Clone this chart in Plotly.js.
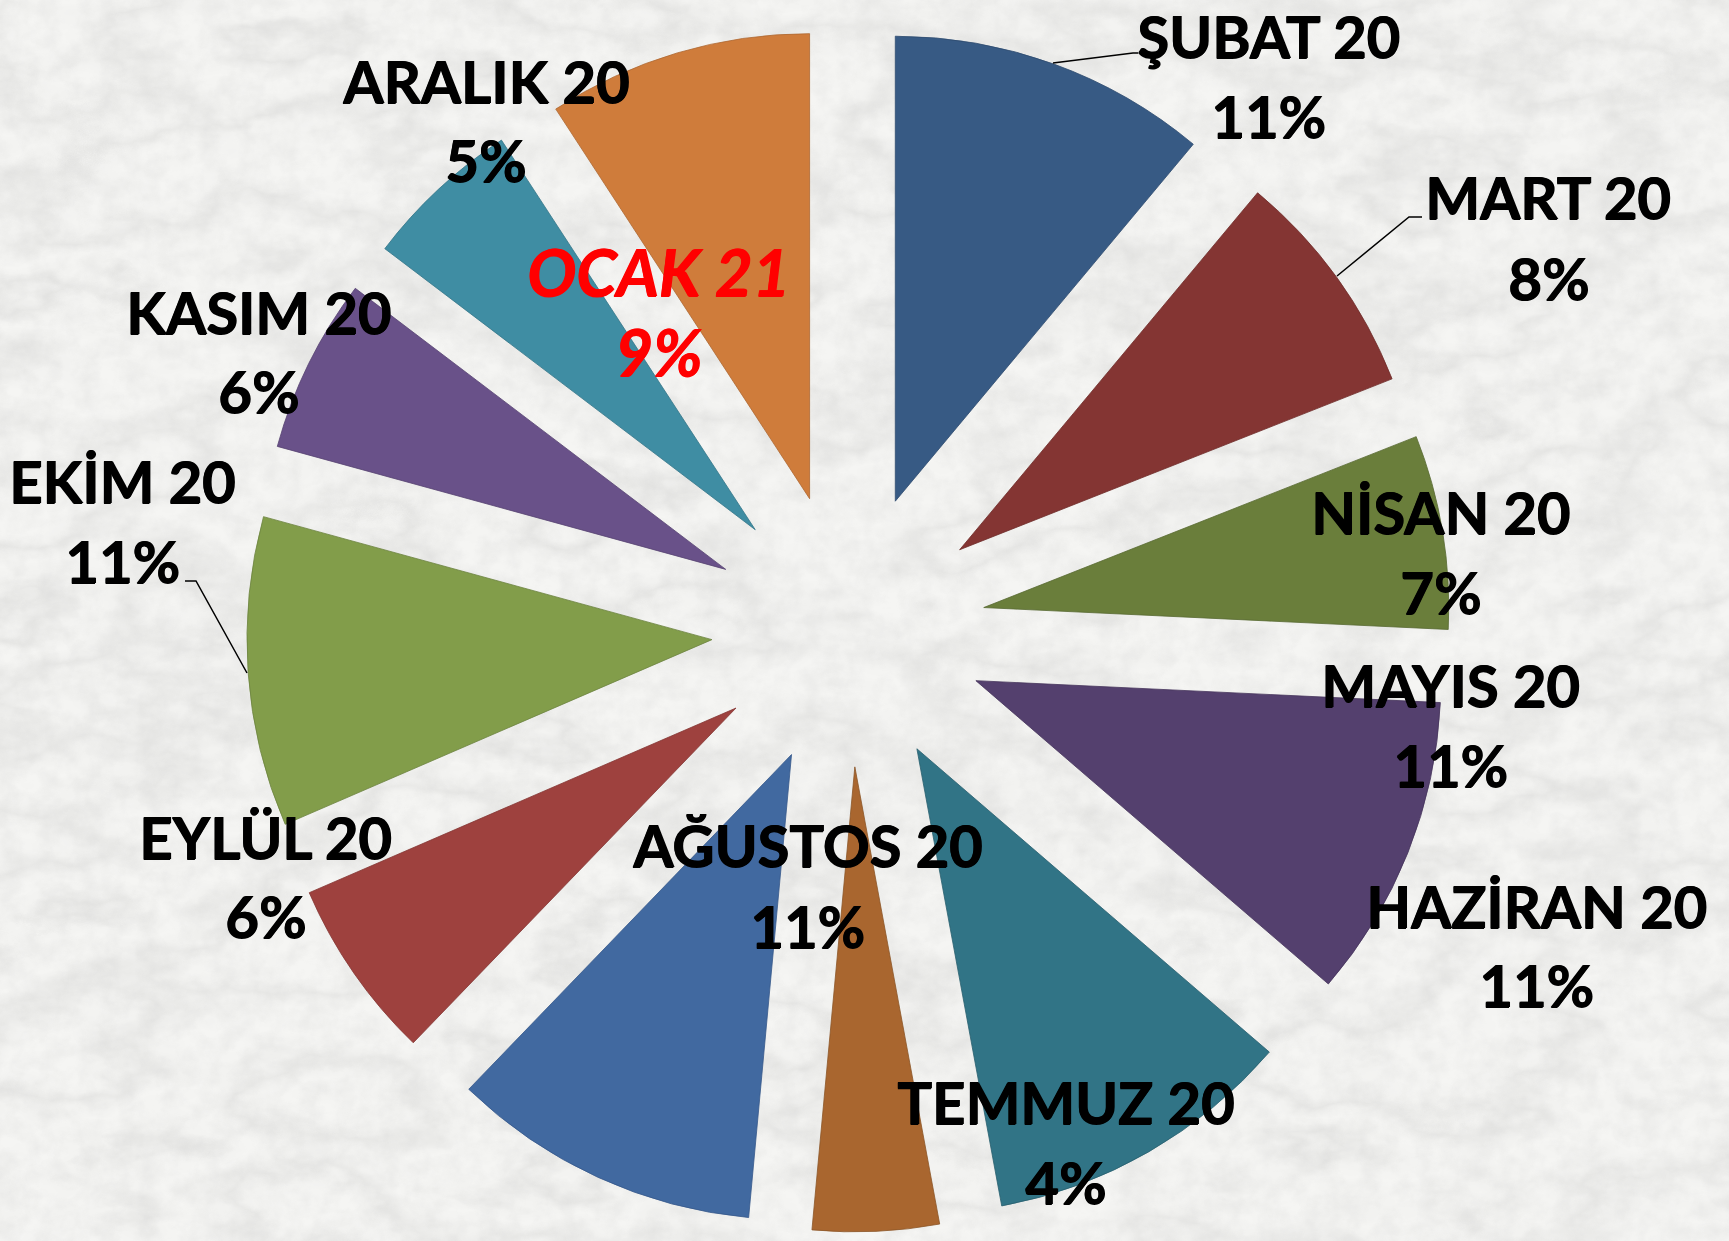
<!DOCTYPE html>
<html><head><meta charset="utf-8">
<script src="https://cdn.plot.ly/plotly-3.0.1.min.js"></script>
<style>
html,body{margin:0;padding:0;width:1729px;height:1241px;overflow:hidden;background:#f3f3f1}
#bg{position:absolute;left:0;top:0}
#chart{position:absolute;left:0;top:0;width:1729px;height:1241px}
</style>
</head><body>
<svg id="bg" width="1729" height="1241" xmlns="http://www.w3.org/2000/svg">
  <defs>
    <filter id="veins" x="0" y="0" width="100%" height="100%">
      <feTurbulence type="fractalNoise" baseFrequency="0.0045 0.009" numOctaves="6" seed="11" result="n"/>
      <feColorMatrix in="n" type="matrix" values="0 0 0 0 0.55  0 0 0 0 0.55  0 0 0 0 0.54  1 0 0 0 0"/>
      <feComponentTransfer><feFuncA type="table" tableValues="0 0 0.05 0.26 0.05 0 0.08 0.24 0.06 0 0.04 0.18 0"/></feComponentTransfer>
    </filter>
    <filter id="grain" x="0" y="0" width="100%" height="100%">
      <feTurbulence type="fractalNoise" baseFrequency="0.05" numOctaves="3" seed="4" result="g"/>
      <feColorMatrix in="g" type="matrix" values="0 0 0 0 0.6  0 0 0 0 0.6  0 0 0 0 0.6  -0.9 0 0 0 0.58"/>
    </filter>
  </defs>
  <rect width="1729" height="1241" fill="#f5f5f3"/>
  <rect width="1729" height="1241" filter="url(#grain)" opacity="0.45"/>
  <rect width="1729" height="1241" filter="url(#veins)"/>
</svg>
<div id="chart"></div>
<script>
// ---- data (shares) ----
const months = ['ŞUBAT 20','MART 20','NİSAN 20','MAYIS 20','HAZİRAN 20','TEMMUZ 20','AĞUSTOS 20','EYLÜL 20','EKİM 20','KASIM 20','ARALIK 20','OCAK 21'];
const shares = [11.07, 7.94, 6.74, 10.56, 10.77, 4.39, 10.74, 6.29, 10.76, 6.07, 5.48, 9.19];

// ---- styling ----
const sliceColors = ['#375A84','#843533','#6A7E3B','#54406E','#317486','#A9662F','#4169A0','#9E413E','#829D4A','#695189','#3F8DA3','#CF7C3B'];
const edgeColors  = ['#2E4B6E','#6E2C2A','#586932','#46355C','#295F6F','#8C5527','#36588A','#843634','#6C8340','#574371','#347588','#AD6731'];
const W = 1729, H = 1241;
// label block centres in page pixels (manually placed in the original)
const labelPos = [[1268,75],[1548,237],[1440,551],[1450,724],[1536,945],[1065,1141],[807,885],[265,876],[122,520],[258,351],[485,120],[658,311]];
const lineGap = 40;
const highlight = 'OCAK 21';
// leader lines (page pixels)
const leaders = [
  [[1053,63],[1133,53],[1138,53]],
  [[1337,276],[1409,217],[1422,217]],
  [[247,673],[196,581],[185,581]]
];

const px = x => x / W;
const py = y => 1 - y / H;
const total = shares.reduce((a,b)=>a+b,0);

const trace = {
  type: 'pie',
  labels: months,
  values: shares,
  sort: false,
  direction: 'clockwise',
  rotation: 0,
  pull: shares.map(() => 0.2946),
  marker: {colors: sliceColors, line: {width: 0.8, color: edgeColors}},
  textinfo: 'none',
  hoverinfo: 'label+percent',
  domain: {x: [246.6/W, 1450.6/W], y: [1 - 1232/H, 1 - 28/H]},
  showlegend: false
};

const annotations = [];
months.forEach((m, i) => {
  const pct = Math.round(shares[i] / total * 100) + '%';
  const hi = m === highlight;
  const col = hi ? '#FF0000' : '#000000';
  const font = {family: 'Lato, "Open Sans", sans-serif', size: hi ? 65 : 58, weight: 700,
                color: col, style: hi ? 'italic' : 'normal',
                shadow: '1px 0 0 ' + col + ', 0 1px 0 ' + col};
  [[m, -lineGap], [pct, lineGap]].forEach(([t, dy]) => {
    annotations.push({
      xref: 'paper', yref: 'paper',
      x: px(labelPos[i][0]), y: py(labelPos[i][1] + dy),
      xanchor: 'center', yanchor: 'middle',
      text: t, showarrow: false, font: font
    });
  });
});

const shapes = leaders.map(pts => ({
  type: 'path', xref: 'paper', yref: 'paper',
  path: pts.map((p, k) => (k ? 'L' : 'M') + px(p[0]) + ',' + py(p[1])).join(' '),
  line: {color: '#000000', width: 1.5}
}));

const layout = {
  width: W, height: H,
  margin: {l: 0, r: 0, t: 0, b: 0},
  paper_bgcolor: 'rgba(0,0,0,0)',
  plot_bgcolor: 'rgba(0,0,0,0)',
  annotations: annotations,
  shapes: shapes
};

Plotly.newPlot('chart', [trace], layout, {displayModeBar: false, staticPlot: true});
</script>
</body></html>
